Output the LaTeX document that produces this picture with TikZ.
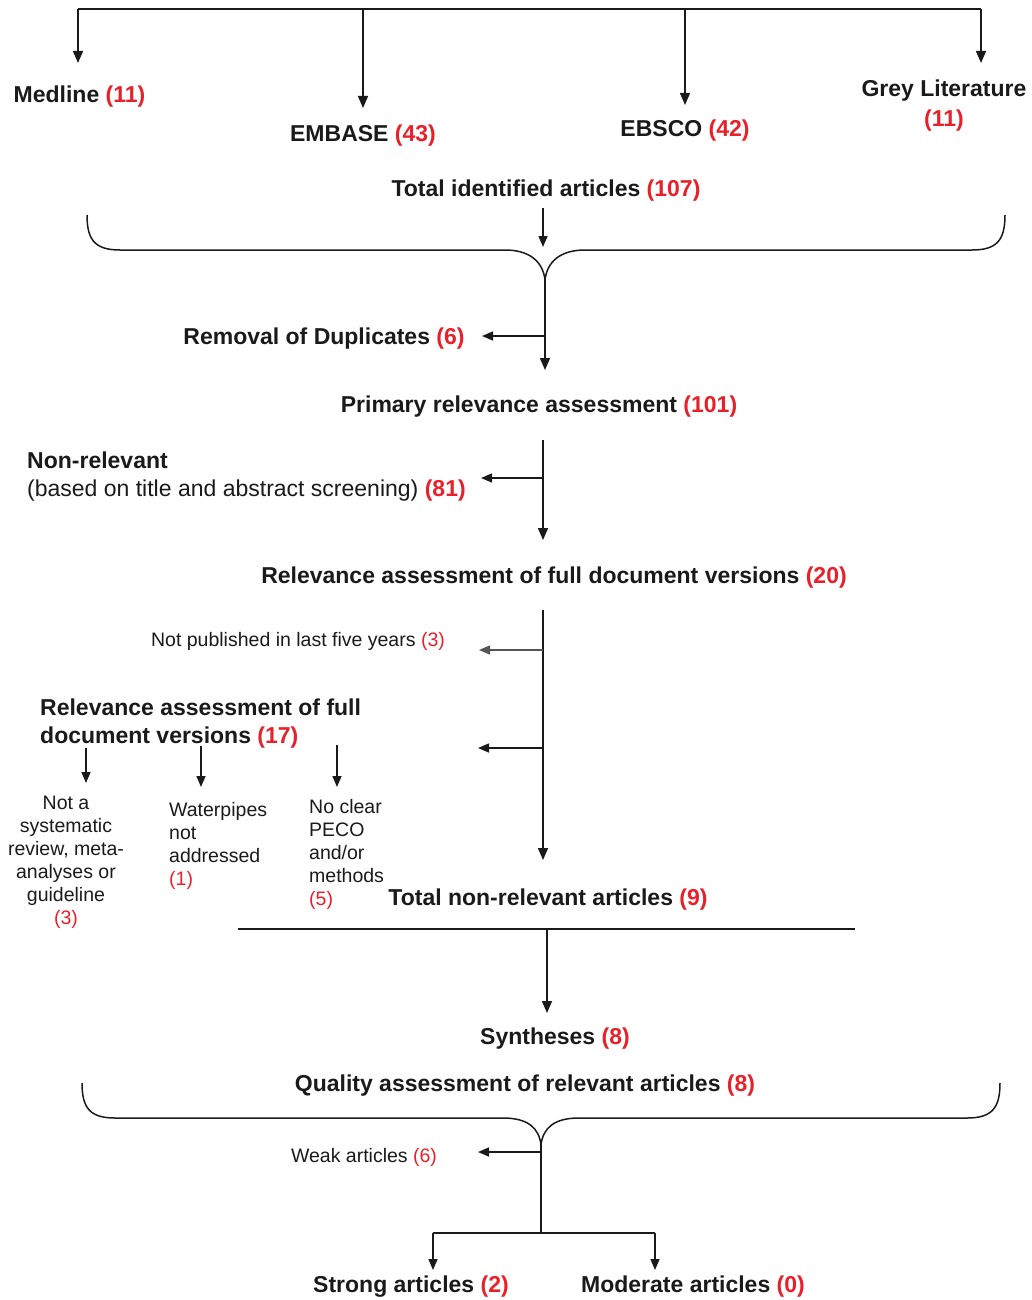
\documentclass[tikz,border=0pt]{standalone}
\usepackage{fontspec}
\setmainfont{Liberation Sans}
\usetikzlibrary{arrows.meta}
\definecolor{txt}{HTML}{1A1A1A}
\definecolor{num}{HTML}{E8202A}
\definecolor{lngray}{HTML}{555555}
\newcommand{\cnt}[1]{\textcolor{num}{\bfseries(#1)}}
\newcommand{\scnt}[1]{\textcolor{num}{(#1)}}
\begin{document}
\begin{tikzpicture}[x=1pt,y=-1pt,
  big/.style={font=\fontsize{23}{28}\selectfont\bfseries, text=txt, inner sep=0pt},
  small/.style={font=\fontsize{19.5}{23}\selectfont, text=txt, inner sep=0pt},
  ln/.style={line width=1.5pt, draw=txt},
  arr/.style={ln, -{Triangle[length=12pt,width=10pt]}},
  sarr/.style={ln, -{Triangle[length=11pt,width=9pt]}}]
\useasboundingbox (0,0) rectangle (1031,1300);

% ---------- nodes ----------
\node[big] (medline) at (79.5,97) {Medline \cnt{11}};
\node[big] (embase) at (363,136) {EMBASE \cnt{43}};
\node[big] (ebsco) at (685,131) {EBSCO \cnt{42}};
\node[big, align=center, font=\fontsize{23}{30}\selectfont\bfseries] (grey) at (944,106) {Grey Literature\\\cnt{11}};
\node[big] (total) at (546,191) {Total identified articles \cnt{107}};
\node[big] (dup) at (324,339) {Removal of Duplicates \cnt{6}};
\node[big] (primary) at (539,407) {Primary relevance assessment \cnt{101}};
\node[big, align=left, anchor=west] (nonrel) at (27,477) {Non-relevant\\\mdseries(based on title and abstract screening) \cnt{81}};
\node[big] (full20) at (554,578) {Relevance assessment of full document versions \cnt{20}};
\node[small] (notpub) at (298,641) {Not published in last five years \scnt{3}};
\node[big, align=left, anchor=west] (full17) at (40,724) {Relevance assessment of full\\document versions \cnt{17}};
\node[small, align=center] (notsys) at (66,862) {Not a\\systematic\\review, meta-\\analyses or\\guideline\\\scnt{3}};
\node[small, align=left, anchor=west] (water) at (169,846) {Waterpipes\\not\\addressed\\\scnt{1}};
\node[small, align=left, anchor=west] (peco) at (309,854) {No clear\\PECO\\and/or\\methods\\\scnt{5}};
\node[big] (totnon) at (548,900) {Total non-relevant articles \cnt{9}};
\node[big] (synth) at (555,1039) {Syntheses \cnt{8}};
\node[big] (quality) at (525,1086) {Quality assessment of relevant articles \cnt{8}};
\node[small] (weak) at (364,1157) {Weak articles \scnt{6}};
\node[big] (strong) at (411,1287) {Strong articles \cnt{2}};
\node[big] (moderate) at (693,1287) {Moderate articles \cnt{0}};

% ---------- coordinates ----------
\coordinate (tl) at (78,9);
\coordinate (tr) at (981,9);
\coordinate (b1) at (545,280);
\coordinate (s1) at (545,336);
\coordinate (p1) at (543,440);
\coordinate (p2) at (543,478);
\coordinate (f1) at (543,610);
\coordinate (f2) at (543,650);
\coordinate (f3) at (543,748);
\coordinate (hl) at (238,929);
\coordinate (hr) at (855,929);
\coordinate (hm) at (547,929);
\coordinate (b2) at (541,1145);
\coordinate (w1) at (541,1152);
\coordinate (bm) at (541,1233);
\coordinate (bl) at (433,1233);
\coordinate (br) at (655,1233);

% ---------- top distribution ----------
\draw[ln] (tl) -- (tr);
\draw[arr] (tl) -- (78,63);
\draw[arr] (363,9) -- (363,108);
\draw[arr] (685,9) -- (685,105);
\draw[arr] (tr) -- (981,63);

% ---------- brace 1 ----------
\draw[sarr] (543,208) -- (543,247);
\draw[ln] (87,215) .. controls (87,240) and (95,250) .. (120,250) -- (505,250)
  .. controls (530,250) and (543,262) .. (b1);
\draw[ln] (1005,215) .. controls (1005,240) and (997,250) .. (972,250) -- (585,250)
  .. controls (560,250) and (547,262) .. (b1);
\draw[arr] (b1) -- (545,370);
\draw[sarr] (s1) -- (482,336);

% ---------- primary ----------
\draw[arr] (p1) -- (543,540);
\draw[sarr] (p2) -- (481,478);

% ---------- full 20 ----------
\draw[arr] (f1) -- (543,860);
\draw[sarr, draw=lngray] (f2) -- (479,650);
\draw[sarr] (f3) -- (478,748);

% ---------- full 17 sub arrows ----------
\draw[sarr] (86,748) -- (86,783);
\draw[sarr] (201,746) -- (201,787);
\draw[sarr] (337,745) -- (337,787);

% ---------- totals ----------
\draw[ln] (hl) -- (hr);
\draw[arr] (hm) -- (547,1013);

% ---------- brace 2 ----------
\draw[ln] (82,1083) .. controls (82,1108) and (90,1118) .. (115,1118) -- (503,1118)
  .. controls (528,1118) and (539,1128) .. (b2);
\draw[ln] (1000,1083) .. controls (1000,1108) and (992,1118) .. (967,1118) -- (579,1118)
  .. controls (554,1118) and (543,1128) .. (b2);
\draw[ln, line width=2pt] (b2) -- (bm);
\draw[sarr] (w1) -- (478,1152);
\draw[ln] (bl) -- (br);
\draw[sarr] (bl) -- (433,1270);
\draw[sarr] (br) -- (655,1270);
\end{tikzpicture}
\end{document}
